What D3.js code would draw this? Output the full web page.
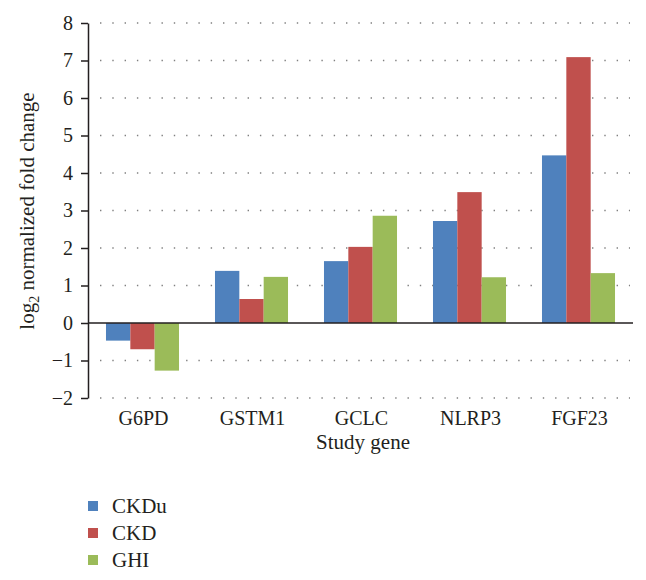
<!DOCTYPE html>
<html>
<head>
<meta charset="utf-8">
<script src="https://cdn.jsdelivr.net/npm/d3@7"></script>
<style>
html,body{margin:0;padding:0;background:#fff;}
svg{display:block;}
svg text{font-family:"Liberation Serif","Tinos","Times New Roman","DejaVu Serif",serif;fill:#231f20;}
</style>
</head>
<body>
<svg id="chart" width="646" height="580"></svg>
<script>
const categories = ["G6PD", "GSTM1", "GCLC", "NLRP3", "FGF23"];
const seriesNames = ["CKDu", "CKD", "GHI"];
const ckdu = [-0.47, 1.39, 1.65, 2.72, 4.47];
const ckd  = [-0.70, 0.64, 2.03, 3.49, 7.09];
const ghi  = [-1.27, 1.23, 2.86, 1.22, 1.33];
const colors = ["#4f81bd", "#c0504d", "#9bbb59"];
const yTicks = [-2, -1, 0, 1, 2, 3, 4, 5, 6, 7, 8];

const seriesValues = [ckdu, ckd, ghi];
const svg = d3.select("#chart");
const FONT = "'Liberation Serif', 'DejaVu Serif', serif";

const x0 = d3.scaleBand().domain(categories).range([88, 633]).paddingInner(0.33).paddingOuter(0.165);
const x1 = d3.scaleBand().domain(seriesNames).range([0, x0.bandwidth()]).padding(0);
const y = d3.scaleLinear().domain([-2, 8]).range([398, 23]);
const color = d3.scaleOrdinal().domain(seriesNames).range(colors);

// dotted gridlines
svg.append("g").selectAll("line")
  .data(yTicks.filter(d => d !== 0))
  .join("line")
  .attr("x1", 100).attr("x2", 630)
  .attr("y1", d => y(d)).attr("y2", d => y(d))
  .attr("stroke", "#808080")
  .attr("stroke-width", 1.4)
  .attr("stroke-dasharray", "1.4,10.9");

// bars
const groups = svg.append("g").selectAll("g")
  .data(categories)
  .join("g")
  .attr("transform", d => `translate(${x0(d)},0)`);

groups.selectAll("rect")
  .data((c, i) => seriesNames.map((s, j) => ({s, v: seriesValues[j][i]})))
  .join("rect")
  .attr("x", d => x1(d.s))
  .attr("width", x1.bandwidth())
  .attr("y", d => Math.min(y(d.v), y(0)))
  .attr("height", d => Math.abs(y(d.v) - y(0)))
  .attr("fill", d => color(d.s));

// zero baseline
svg.append("line")
  .attr("x1", 88).attr("x2", 633)
  .attr("y1", y(0)).attr("y2", y(0))
  .attr("stroke", "#231f20").attr("stroke-width", 1.5);

// y axis
const yAxis = svg.append("g")
  .attr("transform", "translate(88,0)")
  .call(d3.axisLeft(y).tickValues(yTicks).tickSize(7).tickPadding(8).tickSizeOuter(0));
yAxis.attr("font-family", FONT).attr("font-size", 20);
yAxis.select(".domain").attr("stroke", "#231f20").attr("stroke-width", 1.5);
yAxis.selectAll(".tick line").attr("stroke", "#231f20").attr("stroke-width", 1.5);
yAxis.selectAll(".tick text").attr("fill", "#231f20");

// category labels
svg.append("g").attr("font-family", FONT).selectAll("text")
  .data(categories)
  .join("text")
  .attr("x", d => x0(d) + x0.bandwidth() / 2 + 1)
  .attr("y", 425)
  .attr("text-anchor", "middle")
  .attr("font-size", 20)
  .text(d => d);

// x axis title
svg.append("text")
  .attr("font-family", FONT)
  .attr("x", 363).attr("y", 449)
  .attr("text-anchor", "middle")
  .attr("font-size", 21)
  .text("Study gene");

// y axis title
const yt = svg.append("text")
  .attr("font-family", FONT)
  .attr("transform", "translate(34,211) rotate(-90)")
  .attr("text-anchor", "middle")
  .attr("font-size", 21);
yt.append("tspan").text("log");
yt.append("tspan").attr("font-size", 14).attr("dy", 5).text("2");
yt.append("tspan").attr("dy", -5).text(" normalized fold change");

// legend
const legend = svg.append("g").attr("font-family", FONT).selectAll("g")
  .data(seriesNames)
  .join("g")
  .attr("transform", (d, i) => `translate(88,${506 + i * 27})`);
legend.append("rect")
  .attr("x", 0).attr("y", -5).attr("width", 10).attr("height", 10)
  .attr("fill", d => color(d));
legend.append("text")
  .attr("x", 24).attr("y", 7)
  .attr("font-size", 21)
  .text(d => d);
</script>
</body>
</html>
